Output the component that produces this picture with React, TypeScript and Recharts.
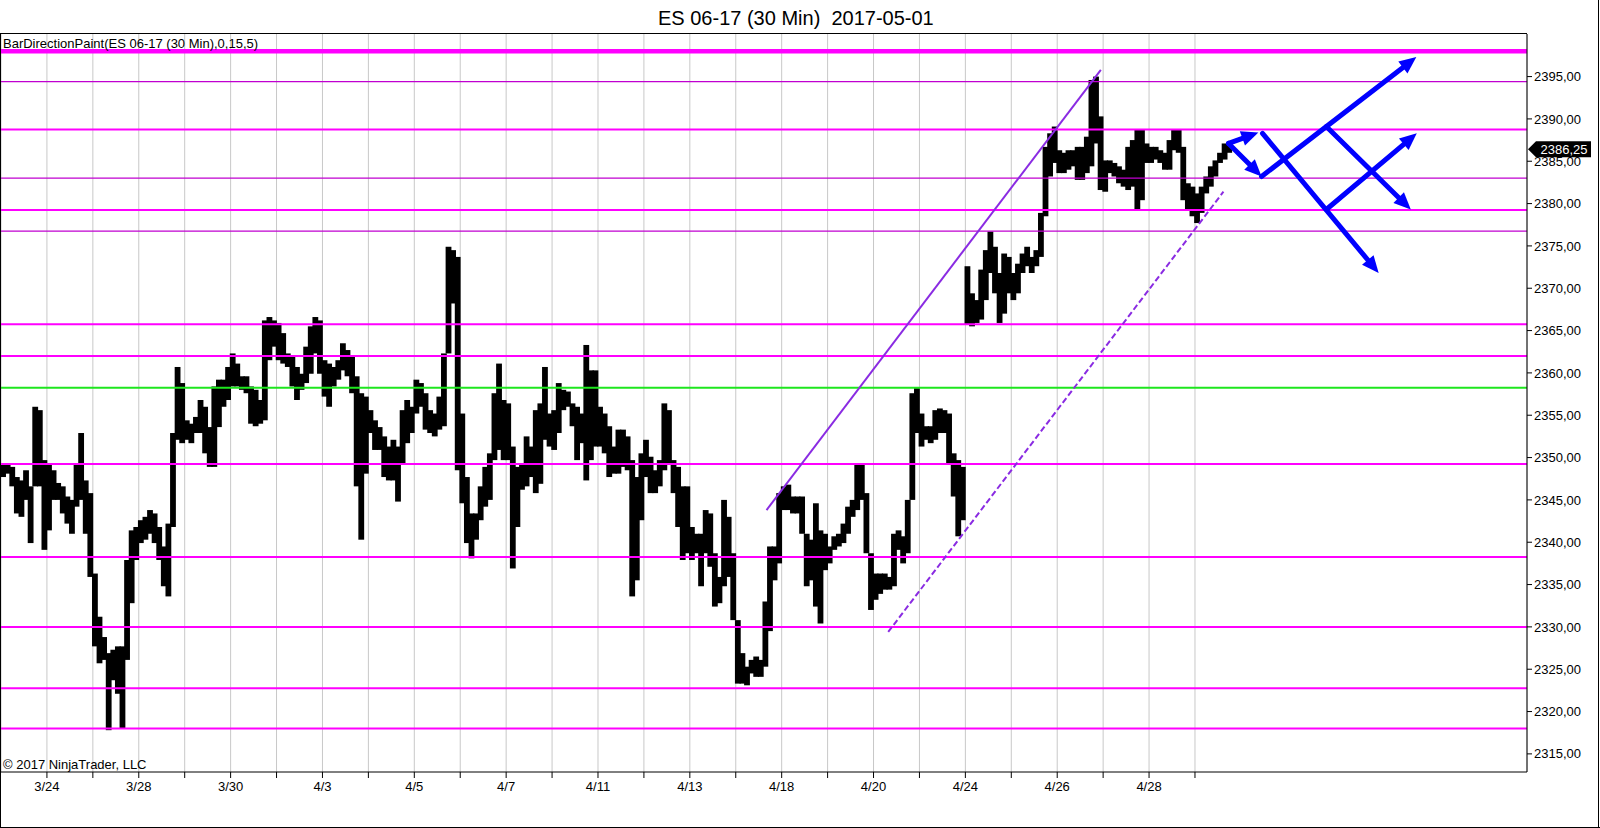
import React from "react";
import { Bar, CartesianGrid, ComposedChart, ReferenceLine, XAxis, YAxis } from "recharts";

const FONT = '"Liberation Sans", Arial, sans-serif';

// one session per trading day, ten 0.1-day slots each (high / low of the 30 min bars in the slot)
const HI_0323 = [2349.3, 2349.3, 2348.9, 2347.7, 2347.3, 2348.5, 2346.6, 2356.0, 2355.6, 2349.7];
const LO_0323 = [2347.7, 2348.1, 2346.6, 2343.4, 2343.0, 2345.0, 2339.9, 2346.6, 2346.6, 2339.1];
const HI_0324 = [2349.3, 2348.5, 2347.0, 2346.6, 2345.4, 2345.0, 2349.3, 2352.9, 2347.3, 2345.8];
const LO_0324 = [2341.4, 2345.0, 2345.0, 2343.4, 2342.2, 2341.0, 2344.2, 2345.0, 2341.0, 2335.9];
const HI_0327 = [2336.3, 2331.2, 2328.8, 2326.9, 2327.3, 2327.7, 2327.7, 2337.9, 2341.4, 2341.8];
const LO_0327 = [2327.7, 2325.7, 2326.1, 2317.8, 2323.7, 2322.1, 2318.0, 2326.1, 2332.8, 2337.9];
const HI_0328 = [2342.6, 2343.0, 2343.8, 2343.4, 2341.8, 2339.5, 2342.2, 2352.9, 2360.7, 2358.8];
const LO_0328 = [2339.9, 2340.3, 2341.0, 2339.9, 2337.9, 2334.8, 2333.6, 2341.8, 2352.1, 2351.7];
const HI_0329 = [2354.4, 2354.0, 2354.8, 2356.8, 2356.0, 2353.6, 2358.4, 2359.2, 2359.2, 2360.7];
const LO_0329 = [2352.1, 2351.7, 2352.9, 2352.9, 2350.5, 2348.9, 2348.9, 2353.6, 2356.0, 2356.8];
const HI_0330 = [2362.3, 2361.1, 2359.6, 2359.6, 2358.4, 2358.0, 2356.8, 2366.2, 2366.6, 2366.2];
const LO_0330 = [2358.4, 2358.4, 2358.0, 2357.6, 2354.0, 2353.7, 2354.0, 2354.4, 2361.5, 2363.1];
const HI_0331 = [2365.9, 2364.7, 2362.3, 2361.9, 2360.7, 2359.9, 2363.1, 2365.5, 2366.6, 2366.2];
const LO_0331 = [2361.5, 2361.1, 2360.7, 2358.4, 2356.8, 2358.0, 2358.8, 2359.9, 2362.3, 2359.9];
const HI_0403 = [2361.5, 2361.1, 2360.7, 2361.5, 2363.5, 2362.7, 2361.9, 2359.6, 2357.6, 2357.2];
const LO_0403 = [2357.2, 2356.0, 2358.4, 2359.2, 2360.3, 2359.6, 2357.6, 2346.6, 2340.3, 2348.1];
const HI_0404 = [2355.6, 2354.4, 2353.6, 2352.5, 2351.3, 2352.1, 2351.3, 2355.6, 2356.8, 2356.0];
const LO_0404 = [2352.9, 2350.9, 2350.9, 2347.7, 2347.3, 2347.3, 2344.8, 2349.3, 2351.7, 2352.9];
const HI_0405 = [2359.2, 2358.8, 2357.6, 2355.6, 2355.2, 2357.2, 2362.3, 2374.9, 2374.5, 2373.7];
const LO_0405 = [2355.2, 2356.0, 2353.3, 2352.9, 2352.5, 2353.3, 2353.7, 2362.3, 2368.2, 2348.5];
const HI_0406 = [2355.2, 2347.7, 2343.4, 2343.4, 2346.6, 2348.9, 2350.5, 2357.6, 2361.1, 2356.8];
const LO_0406 = [2344.6, 2339.9, 2338.1, 2340.3, 2342.6, 2344.2, 2345.0, 2349.7, 2350.9, 2349.7];
const HI_0407 = [2356.4, 2351.3, 2348.9, 2349.3, 2352.5, 2351.3, 2355.6, 2356.4, 2360.7, 2355.2];
const LO_0407 = [2349.7, 2336.9, 2341.8, 2346.2, 2346.6, 2347.7, 2345.8, 2346.9, 2352.1, 2351.3];
const HI_0410 = [2355.6, 2358.8, 2358.0, 2357.8, 2356.4, 2356.0, 2355.2, 2363.3, 2360.3, 2360.3];
const LO_0410 = [2350.9, 2352.9, 2355.6, 2356.0, 2353.7, 2349.7, 2351.7, 2347.3, 2349.7, 2351.3];
const HI_0411 = [2356.0, 2355.2, 2353.7, 2351.3, 2353.3, 2353.3, 2352.5, 2349.7, 2347.7, 2350.5];
const LO_0411 = [2351.3, 2350.5, 2347.7, 2348.1, 2348.1, 2348.9, 2348.5, 2333.6, 2335.5, 2342.6];
const HI_0412 = [2352.1, 2350.1, 2348.5, 2349.7, 2356.4, 2355.6, 2349.7, 2348.9, 2346.6, 2346.6];
const LO_0412 = [2347.7, 2345.8, 2345.8, 2346.6, 2348.5, 2349.3, 2345.8, 2341.8, 2337.9, 2338.7];
const HI_0413 = [2341.8, 2341.0, 2341.0, 2343.8, 2343.4, 2338.7, 2335.9, 2345.0, 2343.0, 2338.7];
const LO_0413 = [2337.9, 2338.7, 2334.8, 2338.7, 2337.1, 2332.4, 2332.8, 2334.8, 2335.9, 2330.8];
const HI_0417 = [2330.8, 2326.9, 2325.3, 2326.1, 2326.5, 2326.1, 2333.0, 2339.5, 2339.5, 2345.8];
const LO_0417 = [2323.3, 2323.3, 2323.1, 2324.5, 2324.1, 2324.1, 2325.3, 2329.5, 2335.5, 2337.5];
const HI_0418 = [2346.6, 2346.8, 2345.4, 2345.4, 2345.4, 2341.0, 2340.3, 2344.6, 2341.4, 2341.0];
const LO_0418 = [2343.8, 2343.8, 2343.4, 2343.4, 2341.0, 2334.8, 2335.5, 2332.4, 2330.4, 2336.7];
const HI_0419 = [2339.5, 2340.7, 2341.0, 2342.2, 2344.2, 2345.0, 2349.3, 2349.3, 2345.8, 2338.7];
const LO_0419 = [2337.5, 2339.1, 2339.5, 2339.9, 2341.0, 2343.0, 2343.8, 2345.0, 2338.7, 2332.0];
const HI_0420 = [2336.3, 2336.3, 2336.3, 2335.9, 2341.0, 2341.4, 2340.7, 2345.0, 2357.6, 2358.2];
const LO_0420 = [2333.2, 2333.9, 2334.4, 2334.4, 2334.8, 2339.1, 2337.5, 2338.7, 2345.0, 2352.9];
const HI_0421 = [2355.2, 2353.7, 2353.7, 2355.6, 2355.8, 2355.6, 2355.2, 2350.5, 2349.7, 2348.9];
const LO_0421 = [2351.3, 2352.1, 2351.7, 2352.1, 2352.9, 2352.9, 2349.3, 2345.4, 2340.7, 2342.6];
const HI_0424 = [2372.6, 2369.4, 2368.6, 2372.2, 2374.5, 2376.7, 2374.9, 2371.8, 2374.1, 2373.7];
const LO_0424 = [2365.7, 2365.5, 2365.9, 2366.3, 2368.6, 2371.8, 2369.4, 2365.9, 2367.0, 2369.4];
const HI_0425 = [2371.8, 2372.9, 2374.1, 2374.9, 2373.7, 2374.5, 2378.9, 2386.7, 2388.3, 2389.1];
const LO_0425 = [2368.6, 2369.4, 2371.8, 2372.6, 2371.8, 2372.6, 2373.7, 2378.5, 2383.2, 2384.8];
const HI_0426 = [2386.3, 2386.0, 2386.3, 2386.3, 2386.7, 2386.7, 2387.9, 2394.6, 2395.0, 2390.3];
const LO_0426 = [2383.6, 2383.6, 2384.0, 2384.4, 2382.8, 2382.8, 2383.6, 2384.4, 2387.1, 2381.6];
const HI_0427 = [2385.1, 2385.1, 2384.8, 2384.4, 2384.0, 2386.7, 2387.5, 2388.7, 2388.7, 2387.1];
const LO_0427 = [2381.4, 2383.6, 2383.2, 2382.4, 2382.0, 2381.6, 2382.0, 2379.2, 2380.4, 2384.8];
const HI_0428 = [2386.7, 2386.7, 2386.3, 2386.0, 2387.5, 2388.7, 2388.7, 2386.7, 2382.4, 2382.0];
const LO_0428 = [2384.8, 2385.2, 2384.8, 2384.0, 2384.0, 2386.3, 2386.0, 2380.4, 2379.2, 2378.5];
const HI_0501 = [2381.2, 2382.0, 2383.2, 2384.4, 2385.1, 2386.0, 2387.1, 2387.1];
const LO_0501 = [2377.7, 2378.9, 2381.2, 2382.0, 2383.2, 2384.8, 2385.2, 2386.0];

const SESSIONS = [
  [HI_0323, LO_0323], [HI_0324, LO_0324], [HI_0327, LO_0327], [HI_0328, LO_0328],
  [HI_0329, LO_0329], [HI_0330, LO_0330], [HI_0331, LO_0331], [HI_0403, LO_0403],
  [HI_0404, LO_0404], [HI_0405, LO_0405], [HI_0406, LO_0406], [HI_0407, LO_0407],
  [HI_0410, LO_0410], [HI_0411, LO_0411], [HI_0412, LO_0412], [HI_0413, LO_0413],
  [HI_0417, LO_0417], [HI_0418, LO_0418], [HI_0419, LO_0419], [HI_0420, LO_0420],
  [HI_0421, LO_0421], [HI_0424, LO_0424], [HI_0425, LO_0425], [HI_0426, LO_0426],
  [HI_0427, LO_0427], [HI_0428, LO_0428], [HI_0501, LO_0501],
];

// session index -> axis label (every other session is labelled)
const SESSION_LABELS = [
  "", "3/24", "", "3/28", "", "3/30", "", "4/3", "", "4/5", "", "4/7", "", "4/11",
  "", "4/13", "", "4/18", "", "4/20", "", "4/24", "", "4/26", "", "4/28", "",
];
const SESSION_TICKS = [1, 2, 3, 4, 5, 6, 7, 8, 9, 10, 11, 12, 13, 14, 15, 16, 17, 18, 19, 20, 21, 22, 23, 24, 25, 26];
const PRICE_TICKS = [2315, 2320, 2325, 2330, 2335, 2340, 2345, 2350, 2355, 2360, 2365, 2370, 2375, 2380, 2385, 2390, 2395];

// drawn levels
const LEVEL_TOP = 2398;
const LEVELS_MAJOR = [2388.75, 2379.25, 2365.75, 2362, 2349.25, 2338.25, 2330, 2322.75, 2318];
const LEVELS_MINOR = [2394.4, 2383, 2376.75];
const LEVEL_GREEN = 2358.25;
const LAST_PRICE = 2386.25;

// channel lines: [session, price] pairs
const CHANNEL_UPPER = [[16.67, 2343.8], [23.95, 2395.8]];
const CHANNEL_LOWER = [[19.32, 2329.4], [26.62, 2381.4]];

// projected path arrows: from [session, price] to [session, price]
const ARROWS = [
  [26.73, 2387.1, 27.38, 2388.4],
  [26.73, 2387.1, 27.45, 2383.2],
  [27.45, 2383.2, 30.82, 2397.3],
  [27.47, 2388.3, 30.0, 2371.8],
  [28.86, 2389.1, 30.7, 2379.3],
  [28.86, 2379.3, 30.83, 2388.3],
];

const BARS = SESSIONS.flatMap(([hi, lo], d) =>
  hi.map((h, i) => ({ t: d + 0.05 + i * 0.1, range: [lo[i], h] }))
);

const fmtPrice = (v: number) => v.toFixed(2).replace(".", ",");

// each slot is drawn a little wider than its spacing so neighbours touch
function SlotBar(p: any) {
  const { x, y, width, height } = p;
  if (height == null || isNaN(height)) return null;
  const cx = x + width / 2;
  return <rect x={cx - 2.9} y={y} width={5.8} height={Math.max(height, 1)} fill="#000" />;
}

function ArrowShape(p: any) {
  const { x1, y1, x2, y2 } = p;
  const dx = x2 - x1;
  const dy = y2 - y1;
  const len = Math.hypot(dx, dy) || 1;
  const ux = dx / len;
  const uy = dy / len;
  const head = 17;
  const half = 7.5;
  const bx = x2 - ux * head;
  const by = y2 - uy * head;
  const pts = `${x2},${y2} ${bx - uy * half},${by + ux * half} ${bx + uy * half},${by - ux * half}`;
  return (
    <g>
      <line x1={x1} y1={y1} x2={bx + ux * 3} y2={by + uy * 3} stroke="#0000ff" strokeWidth={5} strokeLinecap="round" />
      <polygon points={pts} fill="#0000ff" />
    </g>
  );
}

// last-price marker sitting on the price axis
function PriceTag(p: any) {
  const { x1, x2, y1 } = p;
  const x = Math.max(x1, x2) + 1;
  return (
    <g>
      <polygon
        points={`${x},${y1 - 1.5} ${x + 8},${y1 - 9.5} ${x + 63},${y1 - 9.5} ${x + 63},${y1 + 6.5} ${x + 8},${y1 + 6.5}`}
        fill="#000"
      />
      <text x={x + 36} y={y1 + 3} fill="#fff" fontSize={13} fontFamily={FONT} textAnchor="middle">
        {fmtPrice(LAST_PRICE)}
      </text>
    </g>
  );
}

const abs = (s: React.CSSProperties): React.CSSProperties => ({ position: "absolute", ...s });

export default function App() {
  return (
    <div style={abs({ left: 0, top: 0, width: 1600, height: 828, background: "#fff", fontFamily: FONT })}>
      <ComposedChart width={1600} height={828} data={BARS} margin={{ top: 34, right: 0, bottom: 0, left: 1 }}>
        <CartesianGrid horizontal={false} stroke="#c8c8c8" />
        <XAxis
          type="number"
          dataKey="t"
          domain={[0, 33.23]}
          allowDataOverflow
          ticks={SESSION_TICKS}
          tickFormatter={(v: number) => SESSION_LABELS[v] ?? ""}
          height={56}
          tickSize={6}
          tickMargin={4}
          axisLine={{ stroke: "#000" }}
          tickLine={{ stroke: "#000" }}
          tick={{ fill: "#000", fontSize: 13, fontFamily: FONT }}
        />
        <YAxis
          orientation="right"
          type="number"
          domain={[2312.86, 2400.03]}
          allowDataOverflow
          ticks={PRICE_TICKS}
          tickFormatter={fmtPrice}
          width={73}
          tickSize={5}
          tickMargin={2}
          axisLine={{ stroke: "#000" }}
          tickLine={{ stroke: "#000" }}
          tick={{ fill: "#000", fontSize: 13, fontFamily: FONT }}
        />
        {LEVELS_MAJOR.map((p) => (
          <ReferenceLine key={p} y={p} stroke="#ff00ff" strokeWidth={2} />
        ))}
        {LEVELS_MINOR.map((p) => (
          <ReferenceLine key={p} y={p} stroke="#c000d0" strokeWidth={1.2} />
        ))}
        <ReferenceLine y={LEVEL_TOP} stroke="#ff00ff" strokeWidth={4.5} />
        <ReferenceLine y={LEVEL_GREEN} stroke="#1ee61e" strokeWidth={2} />
        <Bar dataKey="range" fill="#000" barSize={5} shape={SlotBar} isAnimationActive={false} />
        <ReferenceLine
          segment={CHANNEL_UPPER.map(([x, y]) => ({ x, y }))}
          stroke="#8a2be2"
          strokeWidth={2}
        />
        <ReferenceLine
          segment={CHANNEL_LOWER.map(([x, y]) => ({ x, y }))}
          stroke="#8a2be2"
          strokeWidth={2}
          strokeDasharray="6 3"
        />
        {ARROWS.map(([a, b, c, d], i) => (
          <ReferenceLine key={i} segment={[{ x: a, y: b }, { x: c, y: d }]} shape={ArrowShape} />
        ))}
        <ReferenceLine y={LAST_PRICE} stroke="none" shape={PriceTag} />
      </ComposedChart>

      {/* frame */}
      <div style={abs({ left: 0, top: 33, width: 1527, height: 1, background: "#000" })} />
      <div style={abs({ left: 0, top: 33, width: 1, height: 795, background: "#000" })} />
      <div style={abs({ left: 1598, top: 0, width: 1, height: 828, background: "#000" })} />
      <div style={abs({ left: 0, top: 827, width: 1600, height: 1, background: "#000" })} />

      <div style={abs({ left: 658, top: 8, fontSize: 20, lineHeight: "20px", color: "#000", whiteSpace: "pre" })}>
        {"ES 06-17 (30 Min)  2017-05-01"}
      </div>
      <div style={abs({ left: 3, top: 37, fontSize: 13, lineHeight: "13px", color: "#000", whiteSpace: "pre" })}>
        BarDirectionPaint(ES 06-17 (30 Min),0,15,5)
      </div>
      <div style={abs({ left: 3, top: 758, fontSize: 13, lineHeight: "13px", color: "#000", whiteSpace: "pre" })}>
        © 2017 NinjaTrader, LLC
      </div>
    </div>
  );
}
